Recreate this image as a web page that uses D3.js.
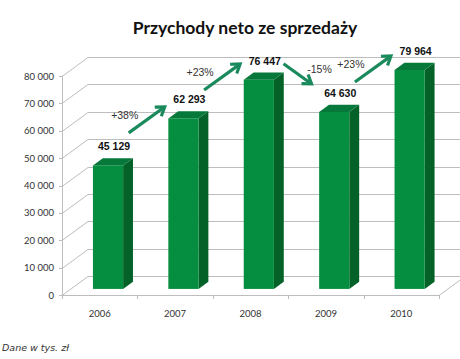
<!DOCTYPE html>
<html><head><meta charset="utf-8">
<script src="https://cdn.jsdelivr.net/npm/d3@7"></script>
<style>html,body{margin:0;padding:0;background:#fff;}svg{display:block;}</style>
</head><body>
<svg id="c" width="460" height="359"></svg>
<script>
const years = ["2006","2007","2008","2009","2010"];
const values = [45129, 62293, 76447, 64630, 79964];
const valueLabels = ["45 129","62 293","76 447","64 630","79 964"];
const changeLabels = ["+38%","+23%","-15%","+23%"];
const yTicks = [0,10000,20000,30000,40000,50000,60000,70000,80000];
const yTickLabels = ["0","10 000","20 000","30 000","40 000","50 000","60 000","70 000","80 000"];
const title = "Przychody neto ze sprzedaży";
const note = "Dane w tys. zł";

const svg = d3.select("#c");
const DX = 26, DY = -19;           // full depth offset
const f0 = 0.32, f1 = 0.70;        // bar depth range
const green = "#068E40", greenSide = "#046229", greenTop = "#06783A";
const arrowCol = "#1A8A5C";

const x = d3.scaleBand().domain(years).range([62, 439]).paddingInner(0.6).paddingOuter(0.3);
const xStep = d3.scalePoint().domain(d3.range(years.length + 1)).range([62, 439]);
const y = d3.scaleLinear().domain([0, 80000]).range([295, 76]);

const grid = svg.append("g").attr("stroke", "#bdbdbd").attr("stroke-width", 1).attr("fill", "none");
yTicks.forEach(t => {
  const yy = Math.round(y(t)) + 0.5;
  grid.append("line").attr("x1", 62 + DX).attr("x2", 470).attr("y1", yy + DY).attr("y2", yy + DY);
  grid.append("line").attr("x1", 62).attr("x2", 62 + DX).attr("y1", yy).attr("y2", yy + DY);
});
grid.append("line").attr("x1", 62).attr("x2", 439).attr("y1", 295.5).attr("y2", 295.5);
grid.append("line").attr("x1", 439).attr("x2", 439 + DX).attr("y1", 295.5).attr("y2", 295.5 + DY);
grid.append("line").attr("x1", 62.5).attr("x2", 62.5).attr("y1", y(80000)).attr("y2", y(0));
yTicks.forEach(t => {
  const yy = Math.round(y(t)) + 0.5;
  grid.append("line").attr("x1", 59).attr("x2", 62).attr("y1", yy).attr("y2", yy);
});
d3.range(years.length + 1).forEach(i => {
  const xx = Math.round(xStep(i)) + 0.5;
  grid.append("line").attr("x1", xx).attr("x2", xx).attr("y1", 295).attr("y2", 299);
});

svg.append("g").selectAll("text").data(yTicks).join("text")
  .attr("x", 54).attr("y", d => y(d) + 3.5).attr("text-anchor", "end")
  .attr("font-family", "Lato, 'Open Sans', sans-serif").attr("font-size", 9.5).attr("fill", "#333")
  .text((d, i) => yTickLabels[i]);

svg.append("g").selectAll("text").data(years).join("text")
  .attr("x", d => x(d) + x.bandwidth() / 2).attr("y", 316.5).attr("text-anchor", "middle")
  .attr("font-family", "Lato, 'Open Sans', sans-serif").attr("font-size", 9.5).attr("fill", "#333")
  .text(d => d);

const bars = svg.append("g");
years.forEach((yr, i) => {
  const xl = x(yr) + DX * f0, xr = xl + x.bandwidth();
  const yb = y(0) + DY * f0, yt = y(values[i]) + DY * f0;
  const ddx = DX * (f1 - f0), ddy = DY * (f1 - f0);
  bars.append("path").attr("fill", greenSide)
    .attr("d", `M${xr},${yt}L${xr + ddx},${yt + ddy}L${xr + ddx},${yb + ddy}L${xr},${yb}Z`);
  bars.append("path").attr("fill", greenTop)
    .attr("d", `M${xl},${yt}L${xl + ddx},${yt + ddy}L${xr + ddx},${yt + ddy}L${xr},${yt}Z`);
  bars.append("rect").attr("fill", green).attr("x", xl).attr("y", yt).attr("width", xr - xl).attr("height", yb - yt);
});

svg.append("g").selectAll("text").data(values).join("text")
  .attr("x", (d, i) => x(years[i]) + x.bandwidth() / 2 + DX * f0 + 6)
  .attr("y", d => y(d) + DY * f0 - 15)
  .attr("text-anchor", "middle")
  .attr("font-family", "'Liberation Sans', Arial, sans-serif").attr("font-size", 10.5).attr("font-weight", "bold").attr("fill", "#111")
  .text((d, i) => valueLabels[i]);

const arr = svg.append("g").attr("stroke", arrowCol).attr("stroke-width", 3.2).attr("fill", "none").attr("stroke-linecap", "butt");
changeLabels.forEach((lab, i) => {
  const up = values[i + 1] >= values[i];
  const cx = xStep(i + 1) + DX * f0 + 1;
  const cy = y((values[i] + values[i + 1]) / 2) + DY * f0 - 22;
  const hw = up ? 18 : 14, hh = up ? 13 : 10;
  const sx = cx - hw, ex = cx + hw;
  const sy = up ? cy + hh : cy - hh, ey = up ? cy - hh : cy + hh;
  const ang = Math.atan2(ey - sy, ex - sx);
  const L = 10, a = 0.6;
  const h1 = [ex - L * Math.cos(ang - a), ey - L * Math.sin(ang - a)];
  const h2 = [ex - L * Math.cos(ang + a), ey - L * Math.sin(ang + a)];
  arr.append("path").attr("d", `M${sx},${sy}L${ex - 1.5 * Math.cos(ang)},${ey - 1.5 * Math.sin(ang)}`);
  arr.append("path").attr("stroke-linejoin", "miter").attr("d", `M${h1[0]},${h1[1]}L${ex},${ey}L${h2[0]},${h2[1]}`);
  svg.append("text")
    .attr("x", up ? cx - 22 : cx + 22).attr("y", cy - 1)
    .attr("text-anchor", "middle")
    .attr("font-family", "'Liberation Sans', Arial, sans-serif").attr("font-size", 10.5).attr("fill", "#333")
    .text(lab);
});

svg.append("text").attr("x", 245).attr("y", 34).attr("text-anchor", "middle")
  .attr("font-family", "Lato, 'Open Sans', sans-serif").attr("font-size", 17.5).attr("font-weight", "bold").attr("fill", "#111")
  .text(title);

svg.append("text").attr("x", 2).attr("y", 351)
  .attr("font-family", "'DejaVu Sans', Verdana, sans-serif").attr("font-size", 9.5).attr("font-style", "italic").attr("fill", "#333")
  .text(note);
</script>
</body></html>
